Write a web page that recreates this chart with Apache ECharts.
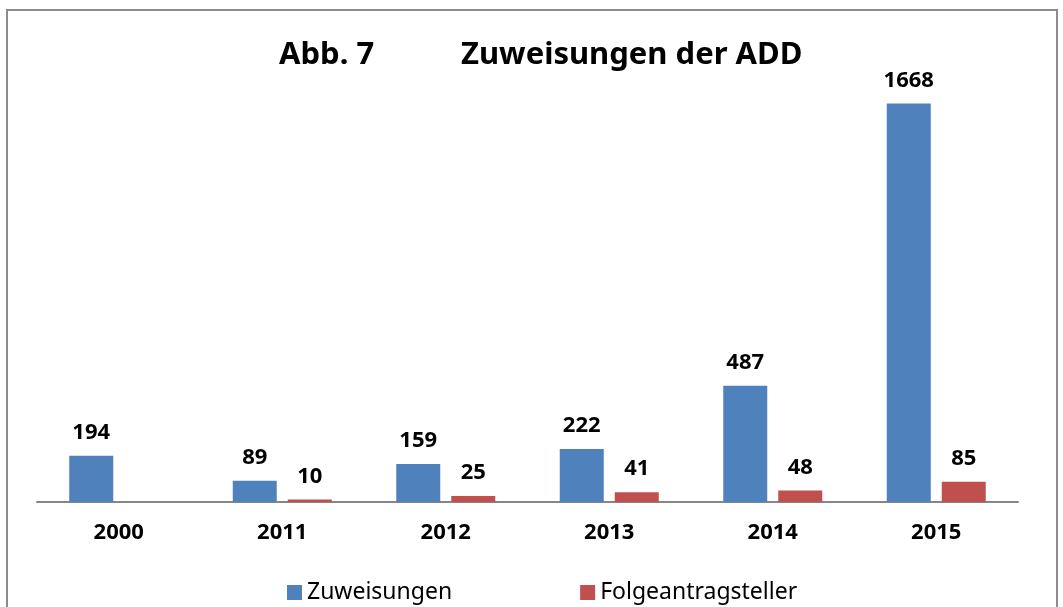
<!DOCTYPE html>
<html lang="de">
<head>
    <meta charset="UTF-8">
    <title>Zuweisungen der ADD</title>
    <script src="https://cdn.jsdelivr.net/npm/echarts@6/dist/echarts.min.js"></script>
    <style>
        html, body { margin: 0; padding: 0; background: #fff; }
        #chart { width: 1063px; height: 607px; }
        .rahmen {
            position: absolute; left: 6px; top: 9px; width: 1048px; height: 640px;
            border: 2px solid #8c8c8c; pointer-events: none;
        }
    </style>
</head>
<body>
    <div id="chart"></div>
    <div class="rahmen"></div>

    <script>
    // Daten
    var jahre = ['2000', '2011', '2012', '2013', '2014', '2015'];
    var zuweisungen = [194, 89, 159, 222, 487, 1668];
    var folgeantragsteller = [null, 10, 25, 41, 48, 85];

    var schrift = '"Noto Sans", "Open Sans", sans-serif';
    var labelStyle = {
        show: true,
        position: 'top',
        distance: 12,
        fontFamily: schrift,
        fontWeight: 'bold',
        fontSize: 22,
        color: '#000'
    };

    var myChart = echarts.init(document.getElementById('chart'));
    var option = {
        animation: false,
        title: [{
            text: 'Abb. 7',
            left: 274,
            top: 35,
            textStyle: { fontFamily: schrift, fontWeight: 'bold', fontSize: 31, color: '#000' }
        }, {
            text: 'Zuweisungen der ADD',
            left: 456,
            top: 35,
            textStyle: { fontFamily: schrift, fontWeight: 'bold', fontSize: 31, color: '#000' }
        }],
        legend: {
            bottom: -2,
            left: 282,
            itemWidth: 15,
            itemHeight: 15,
            itemGap: 128,
            icon: 'rect',
            textStyle: { fontFamily: schrift, fontSize: 23, color: '#000' },
            data: ['Zuweisungen', 'Folgeantragsteller']
        },
        grid: {
            left: 37,
            right: 45,
            top: 72,
            bottom: 105
        },
        xAxis: {
            type: 'category',
            data: jahre,
            axisLine: { lineStyle: { color: '#868686', width: 2 } },
            axisTick: { show: false },
            axisLabel: {
                margin: 20,
                fontFamily: schrift,
                fontWeight: 'bold',
                fontSize: 22,
                color: '#000'
            }
        },
        yAxis: {
            type: 'value',
            show: false,
            min: 0,
            max: 1800,
            splitLine: { show: false }
        },
        series: [{
            name: 'Zuweisungen',
            type: 'bar',
            data: zuweisungen,
            barWidth: 44,
            barGap: '25%',
            itemStyle: { color: '#4f81bd' },
            label: labelStyle
        }, {
            name: 'Folgeantragsteller',
            type: 'bar',
            data: folgeantragsteller,
            barWidth: 44,
            itemStyle: { color: '#c0504d' },
            label: labelStyle
        }]
    };
    myChart.setOption(option);
    </script>
</body>
</html>
